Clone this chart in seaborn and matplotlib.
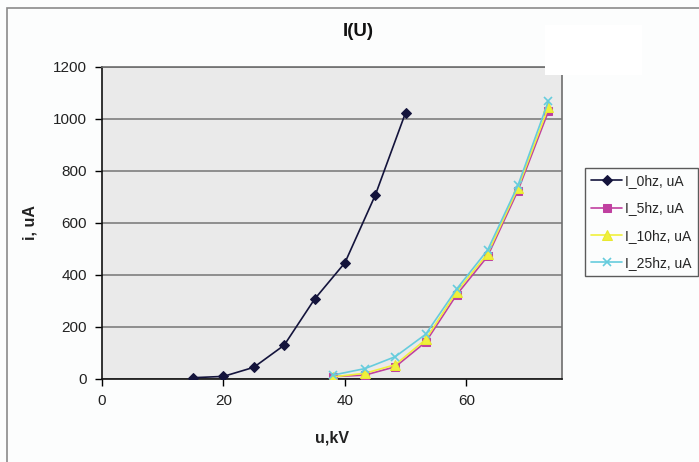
import matplotlib
matplotlib.use("Agg")
import matplotlib.pyplot as plt
import seaborn as sns
import pandas as pd
from matplotlib.patches import Rectangle

# ---- data ----
u_0hz = [15, 20, 25, 30, 35, 40, 45, 50]
i_0hz = [5, 10, 45, 130, 307, 447, 707, 1025]

u_other = [38, 43.3, 48.3, 53.3, 58.4, 63.5, 68.5, 73.5]
i_5hz = [9, 15, 47, 142, 324, 472, 725, 1029]
i_10hz = [8, 22, 55, 152, 336, 482, 735, 1045]
i_25hz = [15, 40, 86, 172, 346, 496, 745, 1068]

series_names = ["I_0hz, uA", "I_5hz, uA", "I_10hz, uA", "I_25hz, uA"]
x_ticks = [0, 20, 40, 60]
y_ticks = [0, 200, 400, 600, 800, 1000, 1200]

sns.set_theme(style="white")
plt.rcParams["font.family"] = ["Liberation Sans", "DejaVu Sans"]

fig = plt.figure(figsize=(6.99, 4.62), dpi=100, facecolor="#FCFDFD")
ax = fig.add_axes([102 / 699, (462 - 379) / 462, (561.7 - 102) / 699, (379 - 67) / 462])
ax.set_facecolor("#EAEAEA")

styles = [
    dict(color="#14143C", marker="D", markersize=5, mec="#14143C"),
    dict(color="#C040A0", marker="s", markersize=6, mec="#C040A0"),
    dict(color="#F0F03C", marker="^", markersize=7, mec="#E8E830"),
    dict(color="#66CCDD", marker="x", markersize=6, mec="#66CCDD", mew=1.2),
]
data = [(u_0hz, i_0hz), (u_other, i_5hz), (u_other, i_10hz), (u_other, i_25hz)]

for (xs, ys), name, st in zip(data, series_names, styles):
    df = pd.DataFrame({"u": xs, "i": ys})
    sns.lineplot(data=df, x="u", y="i", ax=ax, label=name, linewidth=1.2,
                 sort=False, zorder=3, **st)

ax.set_xlim(0, 75.7)
ax.set_ylim(0, 1200)
ax.set_xticks(x_ticks)
ax.set_yticks(y_ticks)
ax.tick_params(axis="both", which="major", direction="out", length=5, width=1,
               color="black", labelsize=11, labelcolor="#222222", pad=6)
ax.tick_params(bottom=True, left=True)
ax.yaxis.grid(True, color="#7F7F7F", linewidth=1.2)
ax.xaxis.grid(False)
ax.set_axisbelow(True)

for side in ["left", "bottom"]:
    ax.spines[side].set_color("#111111")
    ax.spines[side].set_linewidth(1.2)
for side in ["right", "top"]:
    ax.spines[side].set_color("#6E6E6E")
    ax.spines[side].set_linewidth(1.2)
    ax.spines[side].set_visible(True)

ax.set_xlabel("u,kV", fontsize=11.5, fontweight="bold", color="#222222", labelpad=16)
ax.set_ylabel("i, uA", fontsize=11.5, fontweight="bold", color="#222222", labelpad=11)

fig.text(358 / 699, 1 - 31 / 462, "I(U)", ha="center", va="center",
         fontsize=13.5, fontweight="bold", color="#111111")

leg = ax.legend(loc="upper left", bbox_to_anchor=(585 / 699, 1 - 168 / 462),
                bbox_transform=fig.transFigure, frameon=True, fontsize=10,
                handlelength=2.2, borderpad=0.45, labelspacing=0.95,
                handletextpad=0.25, borderaxespad=0, fancybox=False)
leg.get_frame().set_edgecolor("#333333")
leg.get_frame().set_linewidth(1.0)
leg.get_frame().set_facecolor("#FCFDFD")

# figure border and white patch at top right
fig.patches.append(Rectangle((7 / 699, -0.05), 1.1, 1 - 8 / 462 + 0.05,
                             transform=fig.transFigure, fill=False,
                             edgecolor="#8A8A8A", linewidth=1.2, zorder=0))
fig.patches.append(Rectangle((545 / 699, 1 - 75 / 462), (642 - 545) / 699, 50 / 462,
                             transform=fig.transFigure, facecolor="white",
                             edgecolor="none", zorder=10))

fig.savefig("out.png", dpi=100, facecolor=fig.get_facecolor())
